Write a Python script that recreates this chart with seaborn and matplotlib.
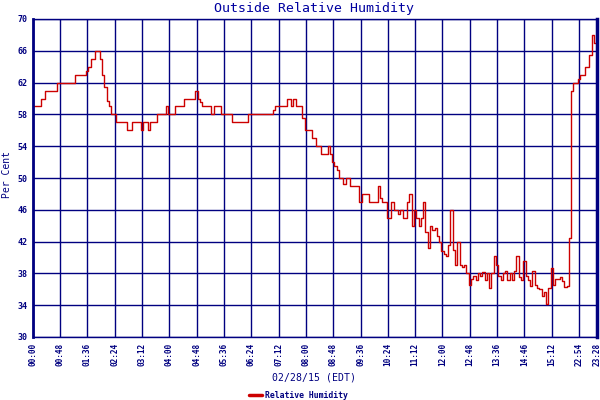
import numpy as np
import pandas as pd
import matplotlib
matplotlib.use("Agg")
import matplotlib.pyplot as plt
import seaborn as sns

# Relative humidity readings, one every 4 minutes (12 readings per 48-minute tick)
humidity = [
    # 00:00
    59, 59, 59, 59, 60, 60, 61, 61, 61, 61, 61, 62,
    # 00:48
    62, 62, 62, 62, 62, 62, 62, 63, 63, 63, 63, 63,
    # 01:36
    63.5, 64, 65, 65, 66, 66, 65, 63, 61.5, 59.7, 59, 58,
    # 02:24
    58, 57, 57, 57, 57, 57, 56, 56, 57, 57, 57, 57,
    # 03:12
    56, 57, 57, 56, 57, 57, 57, 58, 58, 58, 58, 59,
    # 04:00
    58, 58, 58, 59, 59, 59, 59, 60, 60, 60, 60, 60,
    # 04:48
    61, 60, 59.5, 59, 59, 59, 59, 58, 59, 59, 59, 58,
    # 05:36
    58, 58, 58, 58, 57, 57, 57, 57, 57, 57, 57, 58,
    # 06:24
    58, 58, 58, 58, 58, 58, 58, 58, 58, 58, 58.5, 59,
    # 07:12
    59, 59, 59, 59, 60, 60, 59, 60, 59, 59, 59, 57.5,
    # 08:00
    56, 56, 56, 55, 55, 54, 54, 53, 53, 53, 54, 53,
    # 08:48
    52, 51.5, 51, 50, 50, 49.2, 50, 50, 49, 49, 49, 49,
    # 09:36
    47, 48, 48, 48, 47, 47, 47, 47, 49, 47.5, 47, 47,
    # 10:24
    45, 45, 47, 46, 46, 45.5, 46, 45, 45, 47, 48, 44,
    # 11:12
    46, 45, 44, 45, 47, 43.2, 41.2, 44, 43.5, 43.7, 42.7, 41.9,
    # 12:00
    40.8, 40.5, 40.2, 41.6, 46, 41, 39, 42, 39.1, 38.8, 39, 38,
    # 12:48
    36.5, 37.25, 37.7, 37.2, 38, 37.7, 38.2, 37.2, 38, 36.2, 38, 40.2,
    # 13:36
    39, 37.7, 37.2, 38, 38.3, 37.2, 38, 37.2, 38.3, 40.2, 37.6, 37.2,
    # 14:46
    39.5, 37.7, 37.2, 36.4, 38.3, 36.6, 36.2, 36, 35.2, 35.6, 34.1, 36.2,
    # 15:12
    38.7, 36.6, 37.25, 37.25, 37.5, 37, 36.3, 36.4, 42.4, 61, 62, 62,
    # 22:54
    62.5, 63, 63, 64, 64, 65.5, 68, 67, 67,
]
sample_minutes = 4
tick_labels = ["00:00", "00:48", "01:36", "02:24", "03:12", "04:00", "04:48",
               "05:36", "06:24", "07:12", "08:00", "08:48", "09:36", "10:24",
               "11:12", "12:00", "12:48", "13:36", "14:46", "15:12", "22:54",
               "23:28"]
tick_minutes = [0, 48, 96, 144, 192, 240, 288, 336, 384, 432, 480, 528, 576,
                624, 672, 720, 768, 816, 864, 912, 960, 992]
y_ticks = [30, 34, 38, 42, 46, 50, 54, 58, 62, 66, 70]

df = pd.DataFrame({
    "minute": np.arange(len(humidity)) * sample_minutes,
    "humidity": humidity,
})

sns.set_style("white")
plt.rcParams["font.family"] = ["DejaVu Sans Mono", "DejaVu Sans"]

NAVY = "#000080"
RED = "#cc0000"

fig = plt.figure(figsize=(6, 4), dpi=100)
ax = fig.add_axes([0.0545, 0.1575, 0.941, 0.795])

sns.lineplot(data=df, x="minute", y="humidity", ax=ax, color=RED,
             linewidth=1.0, drawstyle="steps-mid", label="Relative Humidity",
             legend=False)

ax.set_xlim(0, tick_minutes[-1])
ax.set_ylim(30, 70)
ax.set_xticks(tick_minutes)
ax.set_xticklabels(tick_labels, rotation=90, fontsize=5.6, fontweight="bold",
                   color=NAVY)
ax.set_yticks(y_ticks)
ax.set_yticklabels([str(v) for v in y_ticks], fontsize=6, fontweight="bold",
                   color=NAVY)
ax.tick_params(axis="both", length=0, pad=4)
ax.grid(True, color=NAVY, linewidth=1.0)
ax.set_axisbelow(True)

for side in ["top", "bottom"]:
    ax.spines[side].set_color(NAVY)
    ax.spines[side].set_linewidth(1.0)
ax.spines["left"].set_color(NAVY)
ax.spines["left"].set_linewidth(2.0)
ax.spines["right"].set_color(NAVY)
ax.spines["right"].set_linewidth(2.5)
for s in ax.spines.values():
    s.set_visible(True)

ax.set_xlabel("")
ax.set_ylabel("")
fig.text(0.523, 0.978, "Outside Relative Humidity", ha="center", va="center",
         fontsize=9.5, color="#0000a0")
fig.text(0.0115, 0.565, "Per Cent", rotation=90, ha="center", va="center",
         fontsize=7, color=NAVY)
fig.text(0.523, 0.055, "02/28/15 (EDT)", ha="center", va="center",
         fontsize=7.1, color=NAVY)

handles, labels = ax.get_legend_handles_labels()
leg = fig.legend(handles, labels, loc="center", bbox_to_anchor=(0.498, 0.0125),
                 frameon=False, fontsize=5.9, handlelength=1.6,
                 handletextpad=0.35, borderpad=0)
for t in leg.get_texts():
    t.set_color(NAVY)
    t.set_fontweight("bold")
for h in leg.get_lines():
    h.set_linewidth(2.5)

fig.savefig("out.png", dpi=100)
